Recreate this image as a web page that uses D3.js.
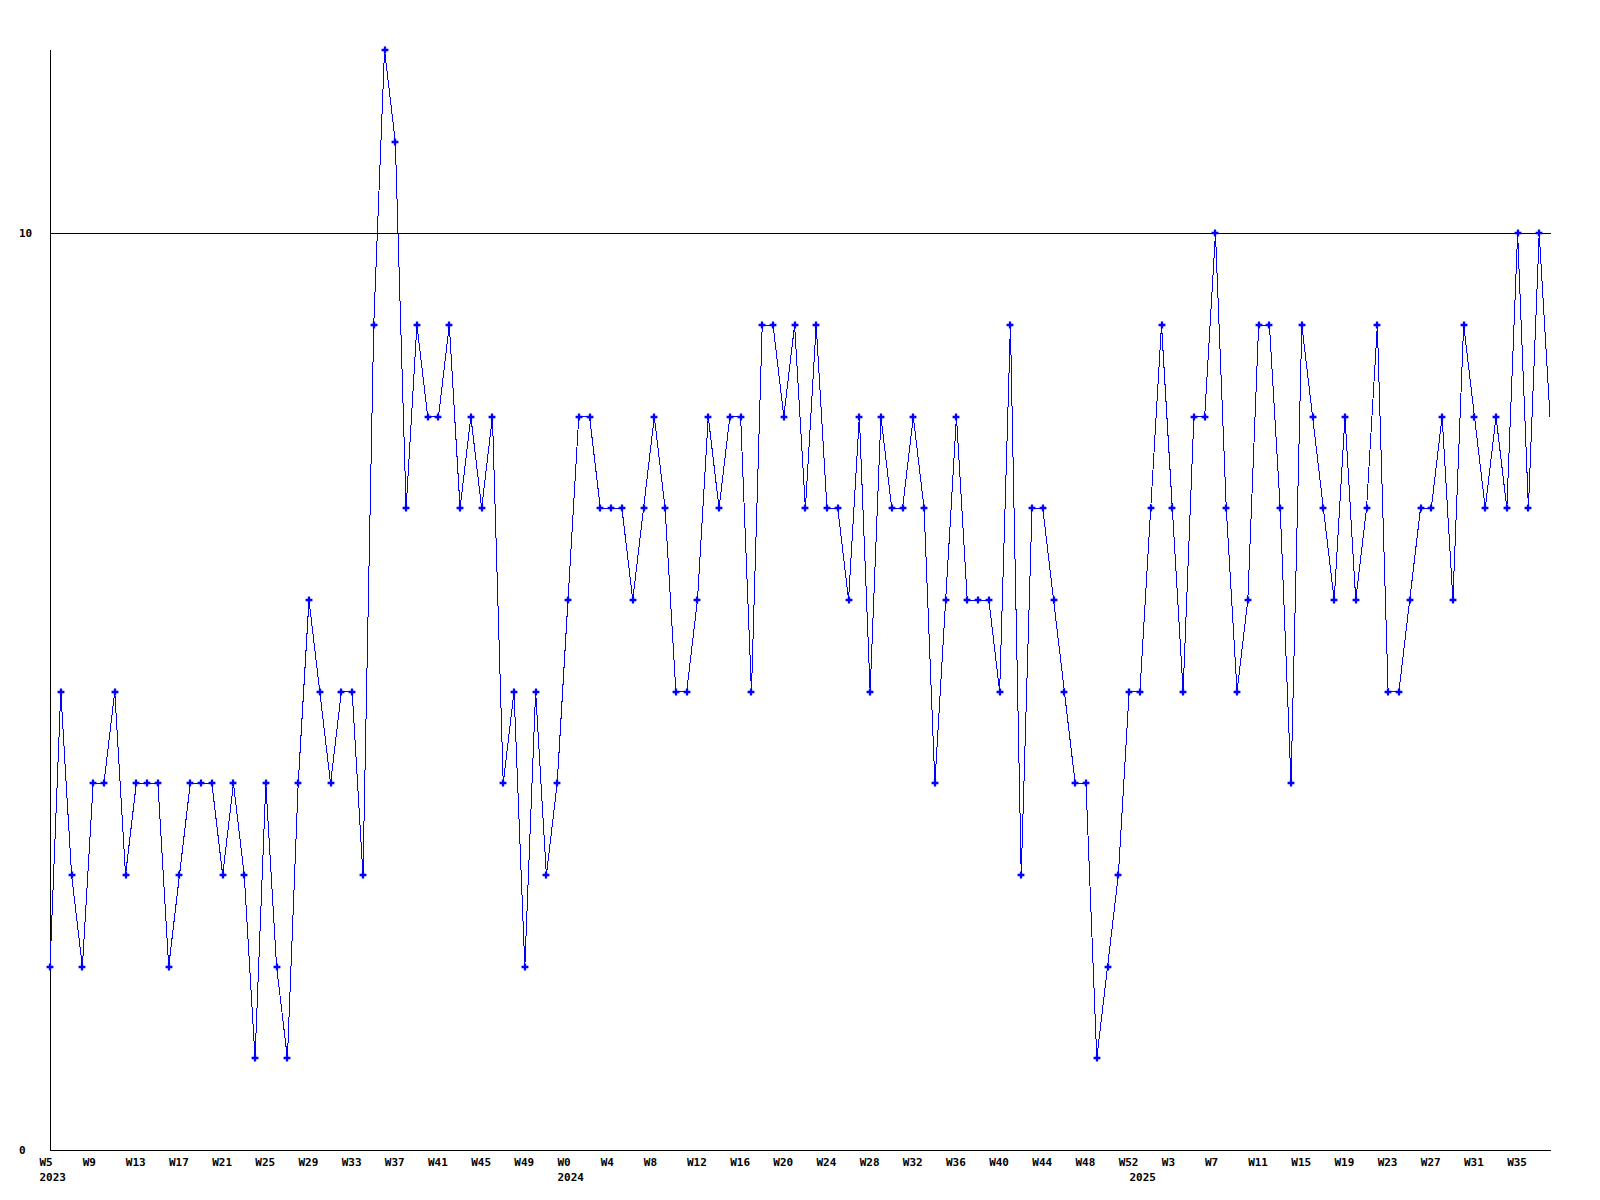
<!DOCTYPE html>
<html>
<head>
<meta charset="utf-8">
<script src="https://cdn.jsdelivr.net/npm/d3@7"></script>
<style>
  body { margin: 0; background: #fff; }
  text { font-family: "DejaVu Sans Mono", monospace; font-size: 11px; font-weight: bold; fill: #000; }
</style>
</head>
<body>
<div id="chart"></div>
<script>
var svgWidth = 1600;
var svgHeight = 1200;

// weekly values, W5 2023 .. W38 2025
var values = [
  2, 5, 3, 2, 4, 4, 5, 3, 4, 4,
  4, 2, 3, 4, 4, 4, 3, 4, 3, 1,
  4, 2, 1, 4, 6, 5, 4, 5, 5, 3,
  9, 12, 11, 7, 9, 8, 8, 9, 7, 8,
  7, 8, 4, 5, 2, 5, 3, 4, 6, 8,
  8, 7, 7, 7, 6, 7, 8, 7, 5, 5,
  6, 8, 7, 8, 8, 5, 9, 9, 8, 9,
  7, 9, 7, 7, 6, 8, 5, 8, 7, 7,
  8, 7, 4, 6, 8, 6, 6, 6, 5, 9,
  3, 7, 7, 6, 5, 4, 4, 1, 2, 3,
  5, 5, 7, 9, 7, 5, 8, 8, 10, 7,
  5, 6, 9, 9, 7, 4, 9, 8, 7, 6,
  8, 6, 7, 9, 5, 5, 6, 7, 7, 8,
  6, 9, 8, 7, 8, 7, 10, 7, 10, 8
];

// years and the week numbers covered in each
var years = ["2023", "2024", "2025"];
var firstWeek = [5, 0, 0];
var lastWeek = [52, 52, 38];

var yTicks = [0, 10];
var yMax = 12;

// build the category list (one per point)
var categories = [];
var yearStarts = [];
years.forEach(function(yr, k) {
  yearStarts.push({ year: yr, index: categories.length });
  for (var w = firstWeek[k]; w <= lastWeek[k]; w++) {
    categories.push("W" + w);
  }
});

var svg = d3.select("#chart")
  .append("svg")
  .attr("width", svgWidth)
  .attr("height", svgHeight);

var xScale = d3.scaleLinear()
  .domain([0, values.length - 1])
  .range([50, 1550]);

var yScale = d3.scaleLinear()
  .domain([0, yMax])
  .range([1150, 50]);

// axes
svg.append("line")
  .attr("x1", 50.5).attr("x2", 50.5)
  .attr("y1", yScale(yMax)).attr("y2", yScale(0))
  .attr("stroke", "#000")
  .attr("shape-rendering", "crispEdges");

yTicks.forEach(function(t) {
  svg.append("line")
    .attr("x1", 50).attr("x2", 1551)
    .attr("y1", Math.round(yScale(t)) + 0.5).attr("y2", Math.round(yScale(t)) + 0.5)
    .attr("stroke", "#000")
    .attr("shape-rendering", "crispEdges");
  svg.append("text")
    .attr("x", 19)
    .attr("y", yScale(t) + 4)
    .text(t);
});

// week labels every 4 weeks
var tickIdx = d3.range(0, categories.length, 4);
svg.selectAll(".wk")
  .data(tickIdx)
  .enter()
  .append("text")
  .attr("class", "wk")
  .attr("x", d => xScale(d) - 10.5)
  .attr("y", 1166)
  .text(d => categories[d]);

svg.selectAll(".yr")
  .data(yearStarts)
  .enter()
  .append("text")
  .attr("class", "yr")
  .attr("x", d => xScale(d.index) - 10.5)
  .attr("y", 1181)
  .text(d => d.year);

// the series line
var lineGenerator = d3.line()
  .x((d, i) => xScale(i))
  .y(d => yScale(d));

svg.append("path")
  .attr("fill", "none")
  .attr("stroke", "#0000ff")
  .attr("stroke-width", 1)
  .attr("shape-rendering", "crispEdges")
  .attr("d", lineGenerator(values));

// point markers (last week has none)
var cross = d3.symbol().type(d3.symbolCross).size(26);
svg.selectAll(".pt")
  .data(values.slice(0, values.length - 1))
  .enter()
  .append("path")
  .attr("class", "pt")
  .attr("transform", (d, i) => "translate(" + Math.round(xScale(i)) + "," + Math.round(yScale(d)) + ")")
  .attr("fill", "#0000ff")
  .attr("d", cross);
</script>
</body>
</html>
